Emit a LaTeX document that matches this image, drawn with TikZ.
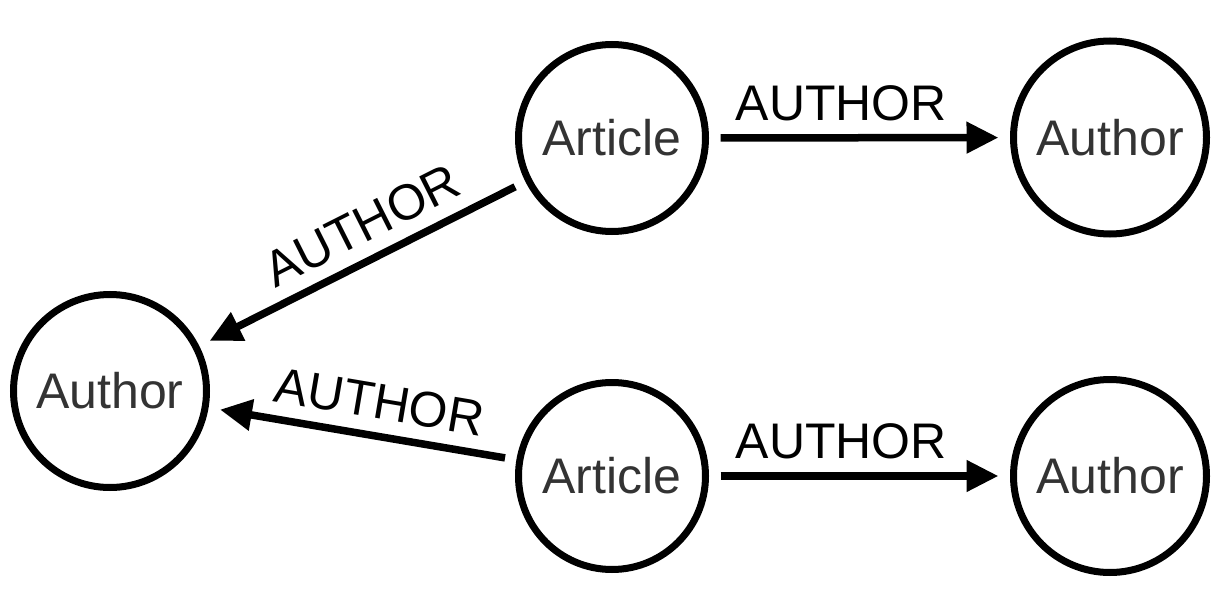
\documentclass[tikz,border=0pt]{standalone}
\usepackage{fontspec}
\setmainfont{Liberation Sans}
\usetikzlibrary{arrows.meta}
\definecolor{nodetext}{HTML}{333333}
\begin{document}
\begin{tikzpicture}[x=1pt,y=-1pt,
  artnode/.style={circle,draw=black,line width=7pt,minimum size=187pt,inner sep=0pt,outer sep=15pt,
    text=nodetext,font=\fontsize{50}{60}\selectfont},
  autnode/.style={artnode,minimum size=193pt},
  edge/.style={line width=7.5pt,-{Triangle[length=32pt,width=30pt]}},
  lab/.style={sloped,above=13pt,inner sep=0pt,text=black,font=\fontsize{50}{60}\selectfont}]
\useasboundingbox (0,0) rectangle (1227,599);
\node[artnode] (art1) at (612,138) {Article};
\node[autnode] (aut1) at (1110,137.5) {Author};
\node[autnode] (autL) at (110,391) {Author};
\node[artnode] (art2) at (612,476) {Article};
\node[autnode] (aut2) at (1110,476) {Author};
\draw[edge] (art1) -- node[lab,pos=0.435] {AUTHOR} (aut1);
\draw[edge] (art2) -- node[lab,pos=0.435] {AUTHOR} (aut2);
\draw[edge] (art1) -- node[lab,pos=0.45] {AUTHOR} (autL);
\draw[edge] (art2) -- node[lab,pos=0.46] {AUTHOR} (autL);
\end{tikzpicture}
\end{document}
